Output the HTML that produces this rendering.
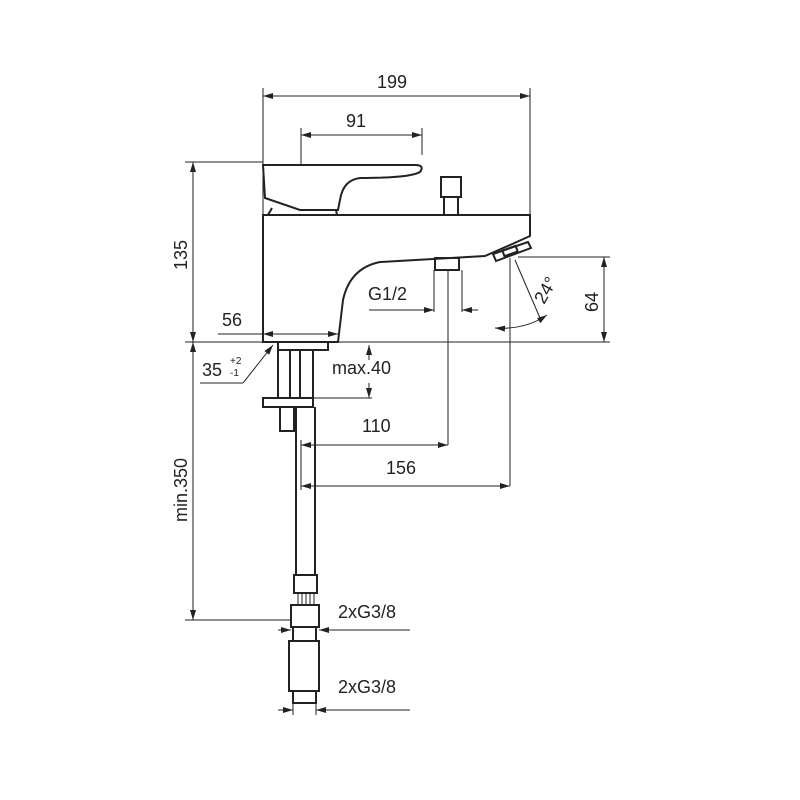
<!DOCTYPE html><html><head><style>body{margin:0;background:#fff}svg{display:block}text{font-family:"Liberation Sans",sans-serif;font-size:18px;fill:#222;stroke:none}</style></head><body>
<svg width="800" height="800" viewBox="0 0 800 800" fill="none" stroke="#222" stroke-width="1">
<defs><marker id="a" viewBox="0 0 10 6" refX="10" refY="3" markerWidth="14" markerHeight="6" markerUnits="userSpaceOnUse" orient="auto-start-reverse"><path d="M0,0L10,3L0,6z" fill="#222" stroke="none"/></marker></defs>
<line x1="263" y1="96" x2="530" y2="96" marker-start="url(#a)" marker-end="url(#a)"/>
<line x1="263" y1="88" x2="263" y2="215"/><line x1="530" y1="88" x2="530" y2="215"/>
<text x="377" y="88">199</text>
<line x1="301" y1="135" x2="422" y2="135" marker-start="url(#a)" marker-end="url(#a)"/>
<line x1="301" y1="128" x2="301" y2="165"/><line x1="422" y1="128" x2="422" y2="155"/>
<text x="346" y="127">91</text>
<line x1="185" y1="162" x2="263" y2="162"/>
<line x1="193" y1="162" x2="193" y2="342" marker-start="url(#a)" marker-end="url(#a)"/>
<text transform="translate(187,270) rotate(-90)">135</text>
<line x1="185" y1="342" x2="610" y2="342"/>
<line x1="193" y1="342" x2="193" y2="620" marker-start="url(#a)" marker-end="url(#a)"/>
<text transform="translate(187,522) rotate(-90)">min.350</text>
<line x1="185" y1="620" x2="290" y2="620"/>
<g stroke-width="2">
<path d="M263,165 L415,165 Q425,165 420,172 Q410,178 360,178 Q343,180 340,200 L338,210 L300,210 L265,198 Z"/>
<path d="M272,208 L268,215 M336,210 L337,215"/>
<rect x="441" y="177" width="20" height="20"/><rect x="444" y="197" width="14" height="18"/>
<path d="M263,215 L530,215 L530,236 L510,245 L485,256 L380,262 Q350,268 343,300 L338,342 L263,342 Z"/>
<path d="M493,254 L528,242 L531,248 L496,261 Z"/><rect x="503" y="248" width="14" height="6" transform="rotate(-20 510 251)"/>
<rect x="435" y="258" width="24" height="12"/>
<rect x="278" y="342" width="50" height="8"/>
<path d="M278,350 V398 M290,350 V398 M300,350 V398 M313,350 V398"/>
<rect x="263" y="398" width="50" height="9"/>
<rect x="280" y="407" width="14" height="24"/>
<path d="M296,407 V575 M315,407 V575"/>
<rect x="294" y="575" width="23" height="18"/>
<rect x="291" y="605" width="28" height="22"/>
<rect x="293" y="627" width="23" height="14"/>
<rect x="289" y="641" width="30" height="50"/>
<rect x="293" y="691" width="23" height="12"/>
</g>
<path d="M298,593 V605 M302,593 V605 M306,593 V605 M310,593 V605 M314,593 V605"/>
<line x1="218" y1="334" x2="263" y2="334"/>
<line x1="263" y1="334" x2="338" y2="334" marker-start="url(#a)" marker-end="url(#a)"/>
<text x="222" y="326">56</text>
<line x1="243" y1="383" x2="273" y2="345" marker-end="url(#a)"/><line x1="200" y1="383" x2="243" y2="383"/>
<text x="202" y="376">35</text><text x="230" y="364" style="font-size:10px">+2</text><text x="230" y="376" style="font-size:10px">-1</text>
<line x1="369" y1="345" x2="369" y2="360" marker-start="url(#a)"/>
<line x1="369" y1="383" x2="369" y2="398" marker-end="url(#a)"/>
<line x1="313" y1="398" x2="372" y2="398"/>
<text x="332" y="374">max.40</text>
<line x1="369" y1="310" x2="434" y2="310"/>
<line x1="420" y1="310" x2="434" y2="310" marker-end="url(#a)"/>
<line x1="462" y1="310" x2="478" y2="310" marker-start="url(#a)"/>
<line x1="434" y1="270" x2="434" y2="312"/><line x1="462" y1="270" x2="462" y2="312"/>
<line x1="448" y1="270" x2="448" y2="445"/>
<text x="368" y="300">G1/2</text>
<line x1="301" y1="445" x2="448" y2="445" marker-start="url(#a)" marker-end="url(#a)"/>
<text x="362" y="432">110</text>
<line x1="510" y1="258" x2="510" y2="486"/>
<line x1="301" y1="486" x2="510" y2="486" marker-start="url(#a)" marker-end="url(#a)"/>
<text x="386" y="474">156</text>
<line x1="301" y1="440" x2="301" y2="490"/>
<line x1="515" y1="260" x2="540" y2="318"/>
<path d="M495,328 Q525,330 547,315" marker-start="url(#a)" marker-end="url(#a)"/>
<text transform="translate(544,305) rotate(-60)">24°</text>
<line x1="518" y1="257" x2="610" y2="257"/>
<line x1="604" y1="257" x2="604" y2="342" marker-start="url(#a)" marker-end="url(#a)"/>
<text transform="translate(598,312) rotate(-90)">64</text>
<line x1="278" y1="630" x2="291" y2="630" marker-end="url(#a)"/><line x1="319" y1="630" x2="332" y2="630" marker-start="url(#a)"/><line x1="319" y1="630" x2="410" y2="630"/>
<text x="338" y="618">2xG3/8</text>
<line x1="278" y1="710" x2="293" y2="710" marker-end="url(#a)"/><line x1="316" y1="710" x2="330" y2="710" marker-start="url(#a)"/><line x1="316" y1="710" x2="410" y2="710"/>
<path d="M293,703 V715 M316,703 V715"/>
<text x="338" y="693">2xG3/8</text>
</svg></body></html>
